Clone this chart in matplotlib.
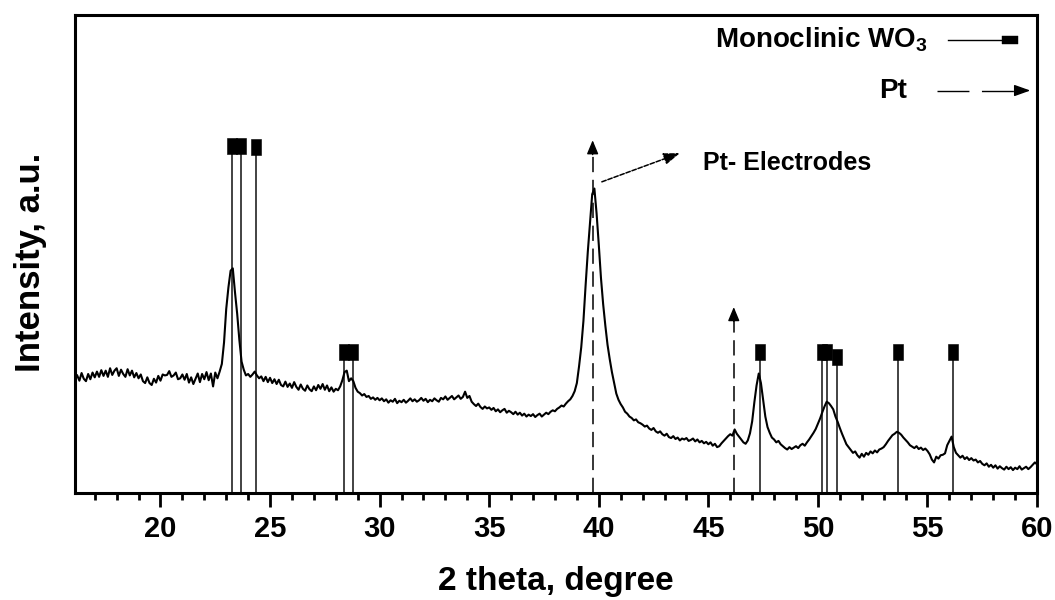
import numpy as np
import matplotlib
matplotlib.use('Agg')
from matplotlib import pyplot as plt
from matplotlib.ticker import MultipleLocator

plt.rcParams['font.family'] = ['Liberation Sans', 'DejaVu Sans']
plt.rcParams['font.weight'] = 'bold'
plt.rcParams['mathtext.fontset'] = 'custom'
plt.rcParams['mathtext.rm'] = 'Liberation Sans:bold'
plt.rcParams['mathtext.bf'] = 'Liberation Sans:bold'

# XRD scan, 2 theta from 16.2 to 60.0 in steps of 0.1 (intensity in a.u.)
scan_start = 16.2
scan_step = 0.1
intensity = [
    24.6, 23.5, 25.1, 23.9, 23.4, 24.9, 23.8, 25.2,                  # 16.2-16.9
    24.2, 25.4, 24.3, 25.7, 24.5, 25.6, 24.3, 26.1, 24.7, 25.6,      # 17
    26.1, 24.5, 25.8, 24.9, 24.3, 25.9, 24.6, 25.6, 24.2, 25.1,      # 18
    24.0, 24.8, 23.4, 23.0, 24.2, 23.0, 22.6, 23.9, 23.1, 24.5,      # 19
    23.5, 24.8, 24.6, 24.7, 25.5, 24.3, 24.6, 25.2, 23.8, 24.0,      # 20
    24.8, 23.7, 24.9, 23.1, 24.2, 22.8, 23.9, 25.0, 23.2, 24.9,      # 21
    23.8, 25.3, 23.6, 25.0, 22.3, 25.2, 24.0, 25.4, 27.0, 31.5,      # 22
    38.5, 43.0, 46.5, 47.0, 42.0, 37.5, 32.0, 27.5, 25.8, 24.6,      # 23
    24.9, 24.3, 24.8, 25.4, 24.6, 24.0, 24.4, 23.4, 24.3, 23.2,      # 24
    24.1, 23.0, 23.8, 22.8, 23.7, 22.6, 22.3, 23.3, 22.2, 22.9,      # 25
    22.0, 23.2, 22.2, 21.6, 22.7, 21.8, 21.4, 22.5, 21.7, 21.3,      # 26
    22.3, 21.5, 22.6, 21.8, 22.8, 21.6, 22.5, 21.3, 22.1, 21.2,      # 27
    21.8, 21.5, 22.3, 23.6, 25.3, 25.6, 23.4, 24.0, 23.4, 22.0,      # 28
    21.2, 20.9, 20.4, 20.7, 20.1, 20.3, 19.7, 20.0, 19.5, 19.9,      # 29
    19.4, 19.8, 19.2, 19.6, 18.9, 19.4, 19.1, 19.7, 18.8, 19.3,      # 30
    19.0, 19.5, 18.9, 19.3, 19.8, 19.2, 19.6, 19.1, 19.4, 19.9,      # 31
    19.3, 19.7, 19.0, 19.5, 19.2, 19.8, 19.4, 19.1, 19.9, 19.6,      # 32
    20.2, 19.5, 19.9, 20.3, 19.6, 20.0, 20.4, 19.7, 20.1, 21.2,      # 33
    19.9, 20.3, 19.1, 18.6, 18.2, 18.7, 18.0, 17.6, 18.1, 17.7,      # 34
    17.9, 17.4, 17.8, 17.1, 17.5, 16.9, 17.3, 17.6, 16.8, 17.2,      # 35
    16.9, 16.5, 17.0, 16.4, 16.8, 16.2, 16.6, 16.0, 16.4, 16.1,      # 36
    16.5, 15.9, 16.3, 16.6, 16.0, 16.4, 16.8, 16.5, 17.0, 17.3,      # 37
    17.1, 17.6, 17.9, 18.3, 18.1, 18.7, 19.2, 19.6, 20.3, 21.3,      # 38
    23.0, 26.5, 30.5, 36.0, 43.5, 50.5, 56.5, 62.5, 63.7, 58.5,      # 39
    52.0, 45.0, 39.5, 35.0, 31.0, 28.0, 25.3, 23.0, 20.8, 19.5,      # 40
    18.6, 17.9, 17.0, 16.6, 16.0, 15.7, 15.2, 15.4, 14.8, 14.6,      # 41
    14.3, 13.9, 14.1, 13.5, 13.2, 13.6, 12.9, 12.6, 12.9, 12.3,      # 42
    12.0, 12.4, 11.7, 11.5, 11.9, 11.3, 11.6, 11.0, 11.4, 11.2,      # 43
    11.5, 10.9, 11.1, 11.4, 10.8, 11.2, 10.6, 10.9, 10.4, 10.7,      # 44
    10.2, 10.6, 9.9, 10.3, 9.6, 9.8, 10.4, 10.9, 11.4, 11.9,         # 45
    12.3, 12.0, 13.3, 12.4, 11.8, 11.2, 10.6, 10.3, 11.0, 12.5,      # 46
    15.0, 19.0, 22.5, 25.0, 23.0, 19.5, 16.0, 13.8, 12.6, 11.6,      # 47
    11.2, 10.6, 10.9, 10.2, 9.8, 9.4, 9.1, 9.6, 9.2, 9.5,            # 48
    9.8, 9.4, 10.0, 10.3, 9.9, 10.6, 11.2, 11.9, 12.6, 13.4,         # 49
    14.5, 15.6, 16.9, 18.1, 19.1, 18.8, 18.2, 17.5, 16.0, 14.9,      # 50
    13.6, 12.4, 11.3, 10.2, 9.6, 9.0, 8.4, 8.7, 7.9, 7.4,            # 51
    8.2, 7.6, 8.4, 8.0, 8.7, 8.3, 8.9, 8.5, 9.1, 9.3,                # 52
    9.6, 10.2, 10.9, 11.5, 12.1, 12.4, 12.8, 12.6, 12.2, 11.6,       # 53
    11.1, 10.6, 10.0, 9.7, 9.4, 9.8, 9.2, 9.5, 9.0, 9.3,             # 54
    8.8, 8.1, 7.0, 6.4, 7.6, 7.2, 7.9, 8.0, 8.3, 10.0,               # 55
    10.9, 11.8, 9.6, 8.4, 7.9, 7.4, 7.8, 7.1, 7.5, 6.9,              # 56
    7.3, 6.8, 7.0, 6.4, 6.7, 6.1, 5.8, 6.2, 5.5, 5.9,                # 57
    5.3, 5.8, 5.1, 5.6, 5.2, 4.9, 5.5, 5.0, 5.4, 4.8,                # 58
    5.3, 5.0, 5.6, 4.9, 5.2, 5.5, 5.0, 5.4, 5.9, 6.4,                # 59
    6.0,                                                             # 60
]

# reference lines
wo3_pos = [23.26, 23.68, 24.35, 28.38, 28.78, 47.35, 50.20, 50.43, 50.85, 53.67, 56.18]
wo3_height = [72.6, 72.6, 72.4, 29.6, 29.6, 29.6, 29.6, 29.6, 28.5, 29.6, 29.6]
pt_pos = [39.72, 46.16]
pt_height = [73.8, 38.9]

two_theta = scan_start + scan_step * np.arange(len(intensity))

fig = plt.figure(figsize=(10.55, 6), dpi=100)
ax = fig.add_axes([0.0711, 0.1783, 0.9119, 0.7967])

# tall rectangle marker for the stick pattern
vbox = [(-0.31, -0.5), (0.31, -0.5), (0.31, 0.5), (-0.31, 0.5), (-0.31, -0.5)]
hbox = [(-0.5, -0.27), (0.5, -0.27), (0.5, 0.27), (-0.5, 0.27), (-0.5, -0.27)]

ax.vlines(wo3_pos, 0, wo3_height, colors='#222222', lw=1.2, zorder=2)
ax.plot(wo3_pos, wo3_height, ls='none', marker=vbox, ms=11.5, color='k', mew=0.4, zorder=3)

ax.vlines(pt_pos, 0, [h - 2 for h in pt_height], colors='k', lw=1.1,
          linestyles=[(0, (10, 5))], zorder=2)
for p, h in zip(pt_pos, pt_height):
    ax.annotate('', xy=(p, h), xytext=(p, h - 3),
                arrowprops=dict(arrowstyle='-|>,head_width=0.25,head_length=0.6',
                                color='k', lw=1.0, shrinkA=0, shrinkB=0,
                                mutation_scale=14))

ax.plot(two_theta, intensity, color='k', lw=1.5, zorder=4)

# Pt electrodes annotation
ax.annotate('', xy=(43.7, 71.1), xytext=(40.14, 65.1),
            arrowprops=dict(arrowstyle='-|>,head_width=0.25,head_length=0.7',
                            color='k', lw=1.1, ls=(0, (3, 1.2)), shrinkA=0, shrinkB=0,
                            mutation_scale=14))
ax.text(44.75, 69.0, 'Pt- Electrodes', fontsize=18, fontweight='bold', va='center', ha='left')

# legend drawn by hand
tr = ax.transAxes
ax.text(0.886, 0.948, 'Monoclinic WO$_{\\mathbf{3}}$', transform=tr, fontsize=20,
        fontweight='bold', ha='right', va='center')
ax.plot([0.907, 0.972], [0.948, 0.948], transform=tr, color='k', lw=1.0, clip_on=False)
ax.plot([0.972], [0.948], transform=tr, ls='none', marker=hbox, ms=11, color='k',
        mew=0.3, clip_on=False)
ax.text(0.865, 0.842, 'Pt', transform=tr, fontsize=20, fontweight='bold',
        ha='right', va='center')
ax.plot([0.896, 0.985], [0.842, 0.842], transform=tr, color='k', lw=1.0,
        dashes=(23, 9), clip_on=False)
ax.annotate('', xy=(0.993, 0.842), xytext=(0.978, 0.842), xycoords='axes fraction',
            arrowprops=dict(arrowstyle='-|>,head_width=0.25,head_length=0.7',
                            color='k', lw=1.0, shrinkA=0, shrinkB=0, mutation_scale=14))

ax.set_xlim(16.1, 60)
ax.set_ylim(0, 100)
ax.xaxis.set_major_locator(MultipleLocator(5))
ax.xaxis.set_minor_locator(MultipleLocator(1))
ax.tick_params(axis='x', which='major', direction='out', length=10, width=2, pad=6,
               labelsize=21)
ax.tick_params(axis='x', which='minor', direction='out', length=5, width=2)
ax.set_yticks([])
for s in ax.spines.values():
    s.set_linewidth(2.2)
for lab in ax.get_xticklabels():
    lab.set_fontweight('bold')

ax.set_xlabel('2 theta, degree', fontsize=24, fontweight='bold')
ax.set_ylabel('Intensity, a.u.', fontsize=25, fontweight='bold')
ax.xaxis.set_label_coords(0.5, -0.152)
ax.yaxis.set_label_coords(-0.029, 0.483)

fig.savefig('out.png', dpi=100)
